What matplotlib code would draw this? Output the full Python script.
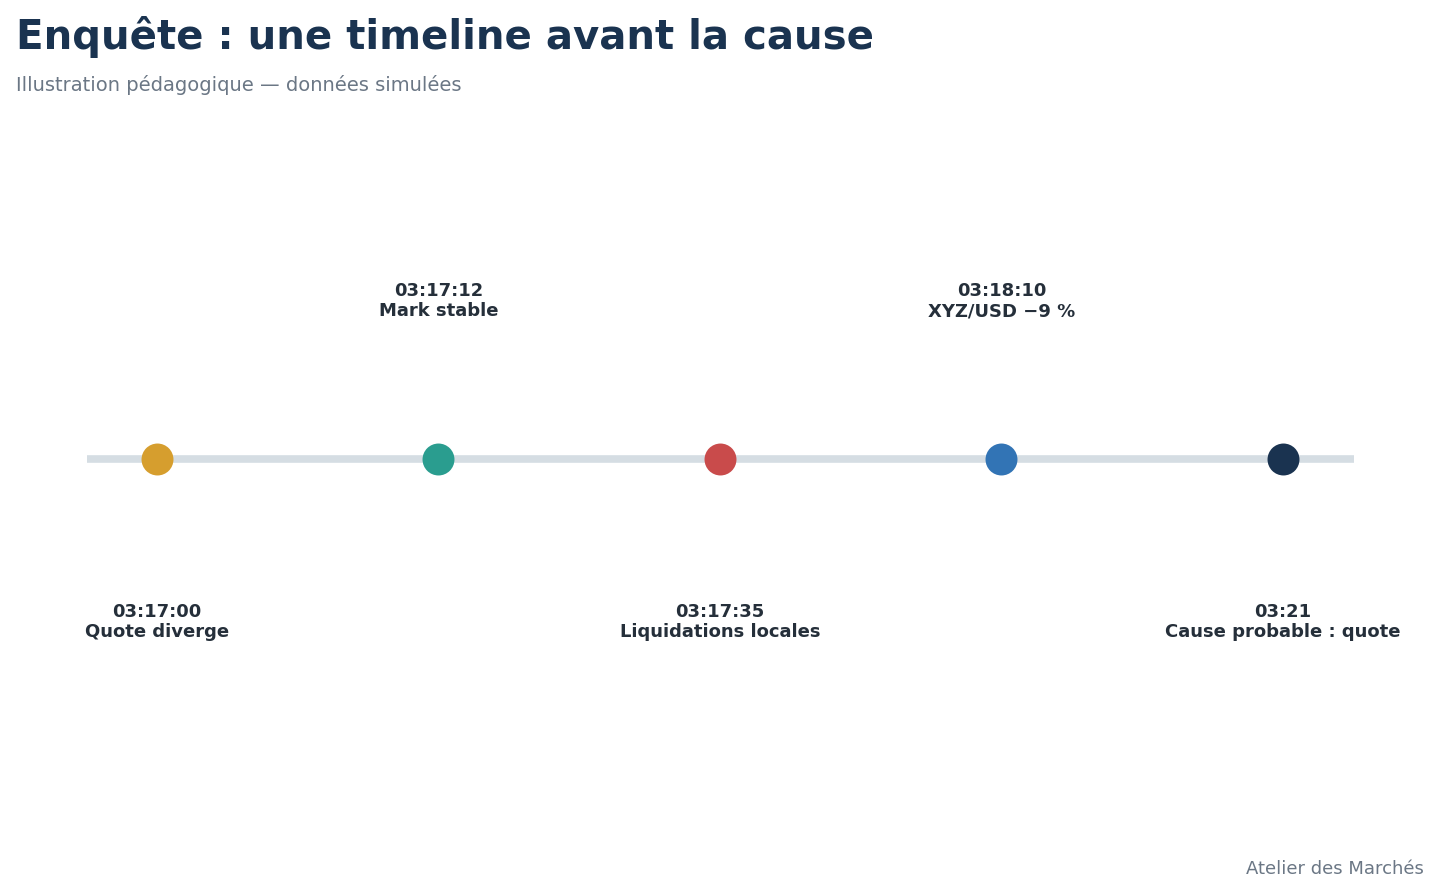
import matplotlib
matplotlib.use("Agg")
import matplotlib.pyplot as plt

times = ["03:17:00", "03:17:12", "03:17:35", "03:18:10", "03:21"]
labels = ["Quote diverge", "Mark stable", "Liquidations locales", "XYZ/USD \u22129 %", "Cause probable : quote"]
colors = ["#d69e2e", "#2a9d8f", "#c94b4b", "#3274b5", "#1a3350"]
positions = [0, 1, 2, 3, 4]
sides = ["below", "above", "below", "above", "below"]

fig = plt.figure(figsize=(14.4, 8.93), dpi=100)
ax = fig.add_axes([0, 0, 1, 1])
ax.set_xlim(-157/281.5, (1440-157)/281.5)
ax.set_ylim(893, 0)
ax.axis("off")

y0 = 459
ax.plot([(87-157)/281.5, (1354-157)/281.5], [y0, y0], color="#d5dde3", lw=5.5,
        solid_capstyle="butt", zorder=1)
for p, t, l, c, s in zip(positions, times, labels, colors, sides):
    ax.plot(p, y0, "o", ms=23, color=c, mec="none", zorder=2)
    dy = 158*0.72 if s == "above" else -163*0.72
    ax.annotate(f"{t}\n{l}", (p, y0), xytext=(0, dy), textcoords="offset points",
                ha="center", va="center", fontsize=13, fontweight="bold",
                color="#252f3a", linespacing=1.2)

fig.text(16/1440, 1-37/893, "Enquête : une timeline avant la cause", fontsize=29,
         fontweight="bold", color="#1a3350", va="center", ha="left")
fig.text(16/1440, 1-85/893, "Illustration pédagogique — données simulées", fontsize=14,
         color="#6b7785", va="center", ha="left")
fig.text(1424/1440, 1-869/893, "Atelier des Marchés", fontsize=13,
         color="#6b7785", va="center", ha="right")
fig.savefig("out.png", dpi=100)
